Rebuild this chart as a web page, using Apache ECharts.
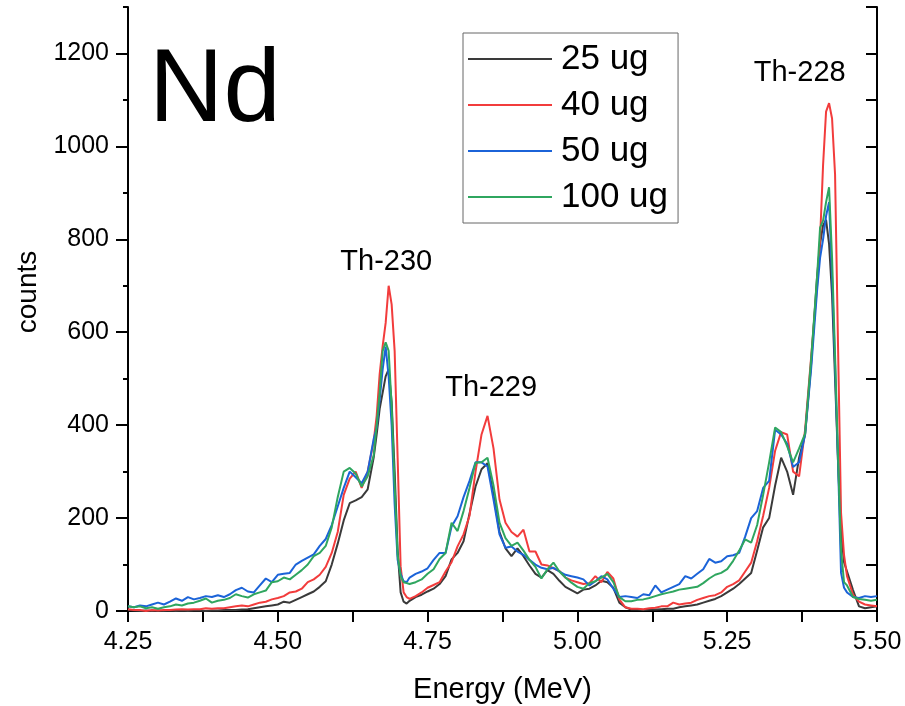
<!DOCTYPE html>
<html>
<head>
<meta charset="utf-8">
<title>Nd</title>
<script src="https://cdn.jsdelivr.net/npm/echarts@6/dist/echarts.min.js"></script>
<style>
  html, body { margin: 0; padding: 0; background: #fff; }
  #main { width: 905px; height: 706px; }
</style>
</head>
<body>
<div id="main"></div>
<script>
// energy axis (MeV), finer steps around the sharp peaks
const energies = [
  4.25, 4.26, 4.27, 4.28, 4.29, 4.30, 4.31, 4.32, 4.33, 4.34,
  4.35, 4.36, 4.37, 4.38, 4.39, 4.40, 4.41, 4.42, 4.43, 4.44,
  4.45, 4.46, 4.47, 4.48, 4.49, 4.50, 4.51, 4.52, 4.53, 4.54,
  4.55, 4.56, 4.57, 4.58, 4.59, 4.60, 4.61, 4.62, 4.63, 4.64,
  4.65, 4.66,
  4.665, 4.67, 4.675, 4.68, 4.685, 4.69, 4.695, 4.70, 4.705, 4.71, 4.715,
  4.72, 4.73, 4.74, 4.75, 4.76, 4.77, 4.78, 4.79, 4.80, 4.81,
  4.82, 4.83, 4.84, 4.85, 4.86, 4.87, 4.88, 4.89, 4.90, 4.91,
  4.92, 4.93, 4.94, 4.95, 4.96, 4.97, 4.98, 4.99, 5.00, 5.01,
  5.02, 5.03, 5.04, 5.05, 5.06, 5.07, 5.08, 5.09, 5.10, 5.11,
  5.12, 5.13, 5.14, 5.15, 5.16, 5.17, 5.18, 5.19, 5.20, 5.21,
  5.22, 5.23, 5.24, 5.25, 5.26, 5.27, 5.28, 5.29, 5.30, 5.31,
  5.32, 5.33, 5.34, 5.35, 5.36, 5.37, 5.38, 5.39, 5.40,
  5.405, 5.41, 5.415, 5.42, 5.425, 5.43, 5.435, 5.44, 5.445,
  5.45, 5.46, 5.47, 5.48, 5.49, 5.50
];

// counts per sample
const ug25 = [
  2, 1, 0, 1, 0, 1, 0, 1, 0, 1,
  0, 1, 1, 0, 1, 1, 2, 2, 2, 3,
  4, 6, 8, 10, 12, 14, 20, 18, 24, 30,
  36, 42, 52, 64, 100, 145, 195, 232, 238, 245,
  262, 330,
  380, 435, 470, 505, 520, 450, 300, 130, 40, 20, 16,
  22, 30, 35, 42, 48, 58, 75, 111, 125, 150,
  210, 268, 305, 318, 250, 170, 135, 118, 135, 118,
  98, 80, 72, 88, 80, 65, 52, 45, 38, 46,
  48, 55, 65, 62, 50, 18, 8, 3, 3, 2,
  3, 3, 4, 5, 5, 8, 10, 12, 14, 18,
  22, 26, 32, 40, 48, 58, 70, 82, 130, 180,
  200, 270, 330, 300, 250, 330, 380, 530, 720,
  790, 830, 842, 790, 680, 500, 320, 170, 105,
  85, 45, 10, 6, 8, 10
];
const ug40 = [
  4, 2, 2, 0, 2, 1, 2, 2, 3, 4,
  3, 4, 4, 6, 5, 6, 6, 8, 10, 12,
  10, 14, 18, 20, 25, 28, 32, 40, 42, 48,
  62, 68, 78, 95, 125, 170, 250, 285, 300, 265,
  300, 365,
  420, 510, 570, 620, 700, 660, 560, 330, 96, 40, 30,
  26, 32, 40, 50, 56, 62, 85, 105, 139, 165,
  205, 300, 380, 420, 350, 240, 190, 170, 160, 175,
  128, 128, 100, 98, 92, 86, 72, 66, 62, 58,
  60, 75, 62, 84, 70, 25, 8, 5, 5, 4,
  6, 7, 10, 10, 18, 14, 16, 18, 24, 28,
  32, 34, 40, 52, 58, 66, 85, 104, 150, 205,
  265, 345, 385, 380, 300, 290, 390, 545, 700,
  800, 960, 1075, 1093, 1060, 940, 569, 211, 120,
  75, 35, 20, 14, 12, 10
];
const ug50 = [
  10, 8, 12, 10, 14, 18, 14, 20, 27, 22,
  30, 25, 28, 32, 30, 34, 30, 36, 45, 50,
  42, 40, 55, 70, 62, 78, 80, 82, 100, 108,
  115, 122, 140, 155, 185, 225, 265, 300, 288, 275,
  300, 370,
  395, 455, 520, 569, 505, 400, 230, 110, 80, 64, 62,
  72, 80, 85, 92, 110, 125, 125, 182, 204, 245,
  280, 320, 320, 311, 240, 165, 136, 139, 128, 121,
  110, 100, 93, 90, 93, 85, 78, 75, 72, 68,
  55, 64, 75, 68, 48, 30, 32, 30, 28, 36,
  34, 55, 40, 46, 52, 58, 75, 70, 80, 90,
  112, 104, 107, 118, 120, 125, 160, 200, 215, 265,
  280, 390, 380, 360, 310, 320, 380, 520, 690,
  760, 800, 850, 880, 720, 530, 319, 82, 50,
  40, 30, 28, 32, 30, 32
];
const ug100 = [
  10, 8, 10, 6, 8, 5, 8, 10, 14, 12,
  16, 18, 22, 27, 18, 22, 24, 28, 36, 32,
  29, 36, 40, 44, 62, 64, 72, 68, 78, 88,
  100, 118, 125, 140, 180, 245, 300, 308, 296, 268,
  290, 335,
  400, 470, 560, 578, 560, 440, 270, 120, 75, 62, 60,
  58, 62, 68, 80, 90, 112, 125, 190, 172, 215,
  265, 319, 320, 330, 270, 190, 157, 140, 147, 130,
  110, 95, 70, 90, 104, 85, 72, 61, 52, 48,
  60, 64, 72, 80, 62, 30, 21, 21, 24, 25,
  28, 32, 36, 39, 42, 46, 48, 50, 52, 60,
  70, 78, 82, 90, 108, 130, 154, 147, 185, 250,
  320, 395, 385, 355, 320, 350, 382, 540, 720,
  825, 840, 880, 912, 760, 550, 330, 130, 62,
  55, 30, 26, 24, 22, 24
];

const seriesNames = ['25 ug', '40 ug', '50 ug', '100 ug'];
const seriesColors = ['#3a3a3a', '#f23c3c', '#1b63d8', '#2fa65f'];

// y tick labels
const yTicks = [0, 200, 400, 600, 800, 1000, 1200];

// peak annotations (energy, counts of the text centre)
const peakNames = ['Th-230', 'Th-229', 'Th-228'];
const peakE = [4.681, 4.856, 5.371];
const peakCounts = [751, 481, 1159];

const FONT = 'Liberation Sans';

const toPairs = vals => energies.map((e, i) => [e, vals[i]]);

const makeSeries = (vals, idx) => ({
  name: seriesNames[idx],
  type: 'line',
  data: toPairs(vals),
  symbol: 'none',
  lineStyle: { width: 2, color: seriesColors[idx] },
  itemStyle: { color: seriesColors[idx] },
  emphasis: { disabled: true }
});

const series = [ug25, ug40, ug50, ug100].map(makeSeries);

// labels for the peaks
series[0].markPoint = {
  symbol: 'circle',
  symbolSize: 1,
  silent: true,
  itemStyle: { color: 'rgba(0,0,0,0)' },
  label: {
    show: true,
    position: 'inside',
    formatter: p => p.name,
    color: '#000',
    fontSize: 29,
    fontFamily: FONT
  },
  data: peakNames.map((n, i) => ({ name: n, coord: [peakE[i], peakCounts[i]] }))
};

const myChart = echarts.init(document.getElementById('main'));

const option = {
  animation: false,
  backgroundColor: '#fff',
  grid: { left: 128, right: 28, top: 7, bottom: 95, outerBoundsMode: 'none' },
  legend: {
    orient: 'vertical',
    left: 463,
    top: 33,
    padding: [8, 10, 8, 5],
    icon: 'rect',
    itemWidth: 84,
    itemHeight: 2,
    itemGap: 10,
    borderColor: '#666',
    borderWidth: 1,
    selectedMode: false,
    data: seriesNames,
    textStyle: { fontSize: 35, fontFamily: FONT, color: '#000', lineHeight: 36, padding: [0, 0, 0, 4] }
  },
  xAxis: [
    {
      type: 'value',
      position: 'bottom',
      min: 4.25,
      max: 5.5,
      interval: 0.25,
      name: 'Energy (MeV)',
      nameLocation: 'middle',
      nameGap: 64,
      nameTextStyle: { fontSize: 29, fontFamily: FONT, color: '#000' },
      axisLine: { lineStyle: { color: '#000', width: 2 } },
      axisTick: { length: 11, lineStyle: { color: '#000', width: 2 } },
      minorTick: { show: true, splitNumber: 2, length: 6, lineStyle: { color: '#000', width: 2 } },
      axisLabel: { fontSize: 25, fontFamily: FONT, color: '#000', margin: 19, formatter: v => v.toFixed(2) },
      splitLine: { show: false }
    },
    {
      // top frame
      type: 'value',
      position: 'top',
      min: 4.25,
      max: 5.5,
      interval: 0.125,
      axisLine: { lineStyle: { color: '#000', width: 2 } },
      axisTick: { inside: true, length: 11, lineStyle: { color: '#000', width: 2 } },
      axisLabel: { show: false },
      splitLine: { show: false }
    }
  ],
  yAxis: [
    {
      type: 'value',
      position: 'left',
      min: 0,
      max: 1300,
      name: 'counts',
      nameLocation: 'middle',
      nameGap: 84,
      nameTextStyle: { fontSize: 28, fontFamily: FONT, color: '#000', padding: [0, 0, 0, 34] },
      axisLine: { show: true, lineStyle: { color: '#000', width: 2 } },
      axisTick: { show: true, length: 12, customValues: yTicks, lineStyle: { color: '#000', width: 2 } },
      axisLabel: { fontSize: 25, fontFamily: FONT, color: '#000', margin: 19, customValues: yTicks, formatter: v => String(v) },
      splitLine: { show: false }
    },
    {
      // left minor ticks
      type: 'value',
      position: 'left',
      min: 0,
      max: 1300,
      interval: 100,
      axisLine: { show: false },
      axisTick: { show: true, length: 5, lineStyle: { color: '#000', width: 2 } },
      axisLabel: { show: false },
      splitLine: { show: false }
    },
    {
      // right frame
      type: 'value',
      position: 'right',
      min: 0,
      max: 1300,
      interval: 100,
      axisLine: { show: true, lineStyle: { color: '#000', width: 2 } },
      axisTick: { show: true, inside: true, length: 11, lineStyle: { color: '#000', width: 2 } },
      axisLabel: { show: false },
      splitLine: { show: false }
    }
  ],
  graphic: [
    {
      type: 'text',
      left: 149,
      top: 41,
      silent: true,
      style: { text: 'Nd', font: '103px "Liberation Sans"', fill: '#000' }
    }
  ],
  series: series
};

myChart.setOption(option);
</script>
</body>
</html>
